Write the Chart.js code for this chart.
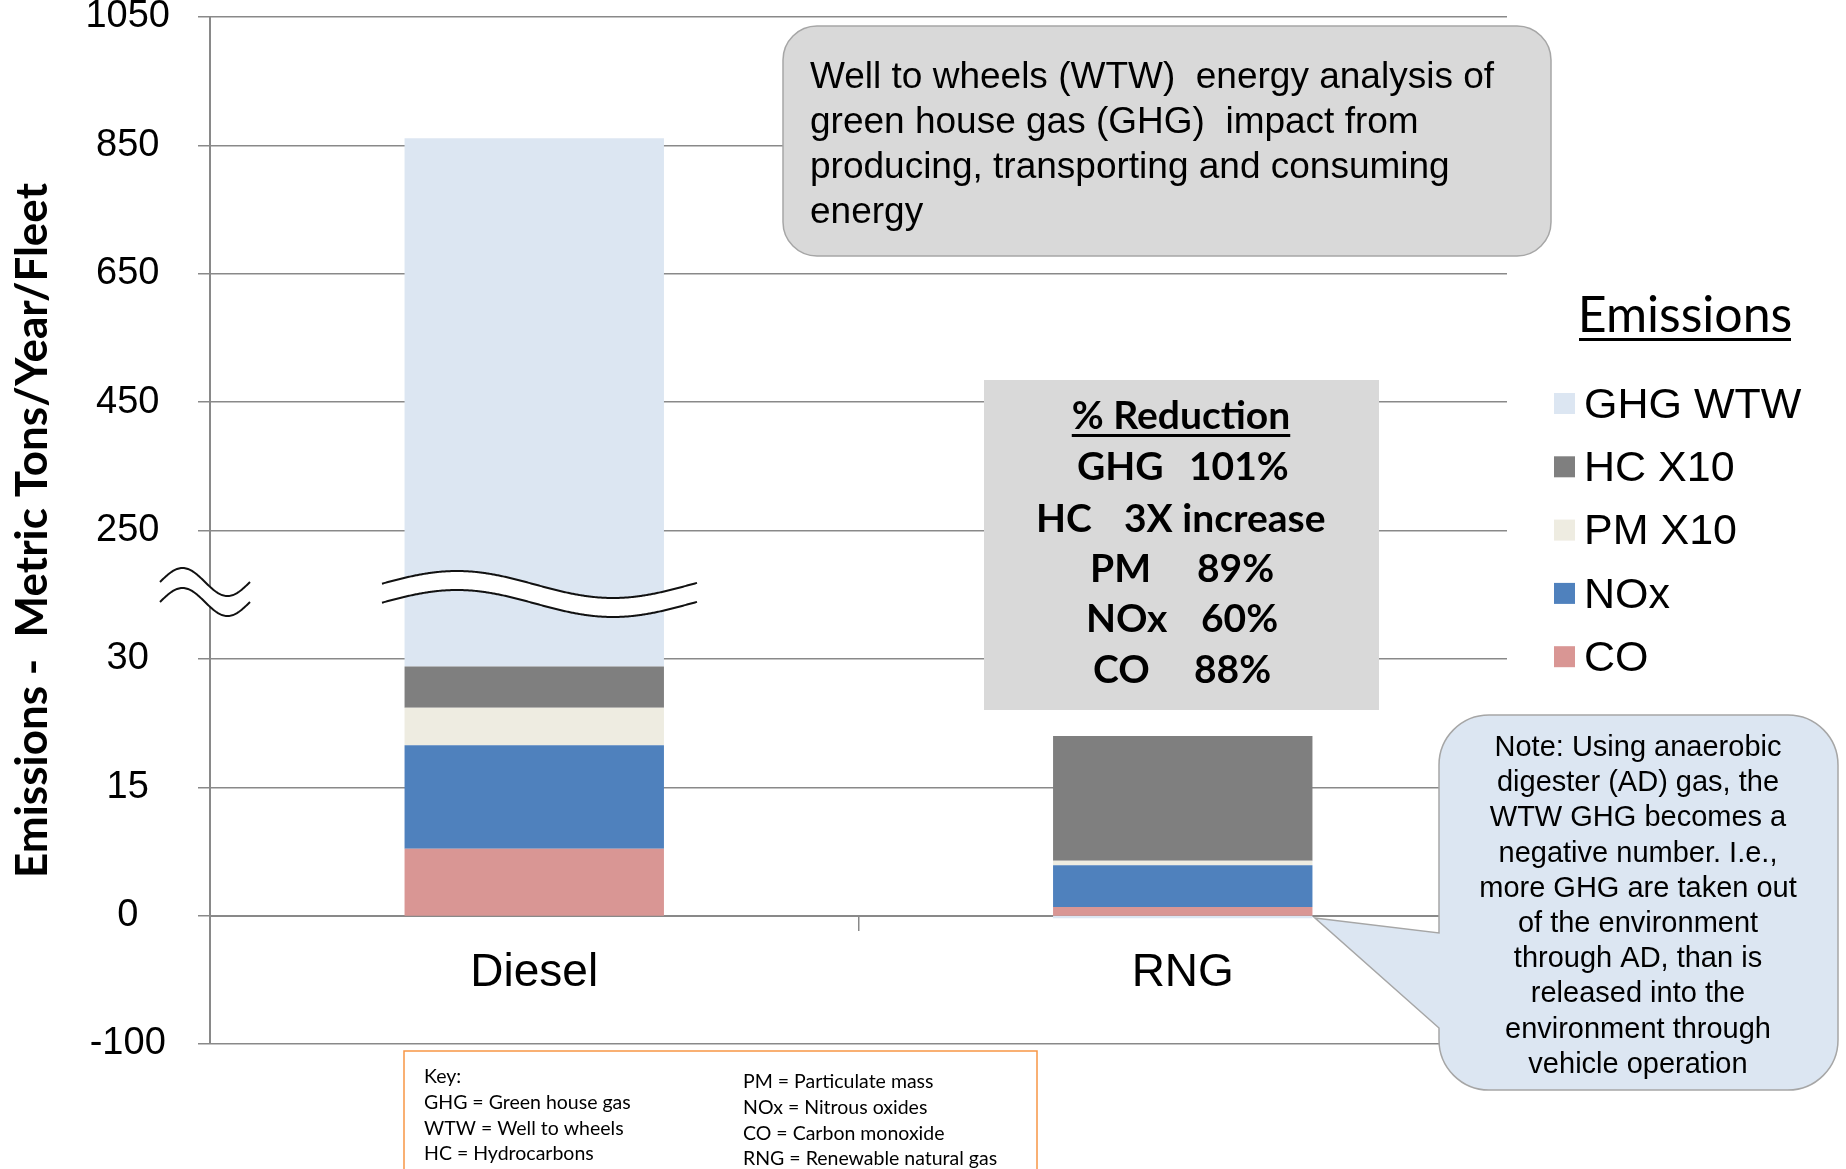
<!DOCTYPE html>
<html>
<head>
<meta charset="utf-8">
<script src="https://cdn.jsdelivr.net/npm/chart.js@4.4.1/dist/chart.umd.min.js"></script>
<style>
  html, body { margin: 0; padding: 0; background: #fff; }
  #wrap { width: 1846px; height: 1169px; position: relative; }
</style>
</head>
<body>
<div id="wrap"><canvas id="emissionsChart"></canvas></div>
<script>
// data (metric tons / year / fleet)
const categories = ["Diesel", "RNG"];
const coValues = [7.8, 1.0];
const noxValues = [12.1, 4.9];
const pmValues = [4.4, 0.5];
const hcValues = [4.8, 14.6];
const ghgValues = [832, -2];
// the value axis is broken: every tick gets the same spacing
const tickValues = [-100, 0, 15, 30, 250, 450, 650, 850, 1050];

const seriesLabels = ["CO", "NOx", "PM X10", "HC X10", "GHG WTW"];
const seriesColors = ["#D99694", "#4F81BD", "#EEECE1", "#7F7F7F", "#DCE6F2"];
const seriesValues = [coValues, noxValues, pmValues, hcValues, ghgValues];

const sans = "'Liberation Sans', Arial, sans-serif";
const calib = "Lato, 'Open Sans', sans-serif";
const gridGray = "#898989";

// real value -> position on the broken axis (tick index units)
function toAxis(v) {
  const n = tickValues.length;
  for (let i = 0; i < n - 1; i++) {
    if (v <= tickValues[i + 1] || i === n - 2) {
      return i + (v - tickValues[i]) / (tickValues[i + 1] - tickValues[i]);
    }
  }
}

// stack the series by hand as floating bars so the broken axis works
const posBase = categories.map(() => 0);
const negBase = categories.map(() => 0);
const datasets = seriesValues.map((vals, k) => {
  const data = vals.map((v, i) => {
    let lo, hi;
    if (v >= 0) { lo = posBase[i]; hi = lo + v; posBase[i] = hi; }
    else { hi = negBase[i]; lo = hi + v; negBase[i] = lo; }
    return [toAxis(lo), toAxis(hi)];
  });
  return {
    label: seriesLabels[k],
    data: data,
    backgroundColor: seriesColors[k],
    borderWidth: 0,
    grouped: false,
    barPercentage: 0.4,
    categoryPercentage: 1
  };
});

function wavePath(ctx, x1, x2, x0, mid, amp, period, shift) {
  for (let x = x1; x <= x2; x += 1) {
    const y = mid + shift - amp * Math.sin(2 * Math.PI * (x - x0) / period);
    if (x === x1) ctx.moveTo(x, y); else ctx.lineTo(x, y);
  }
}

function drawBreak(ctx, x1, x2, x0, mid, amp, period, gap) {
  ctx.beginPath();
  wavePath(ctx, x1, x2, x0, mid, amp, period, 0);
  for (let x = x2; x >= x1; x -= 1) {
    ctx.lineTo(x, mid + gap - amp * Math.sin(2 * Math.PI * (x - x0) / period));
  }
  ctx.closePath();
  ctx.fillStyle = "#fff";
  ctx.fill();
  ctx.strokeStyle = "#111";
  ctx.lineWidth = 2;
  ctx.beginPath();
  wavePath(ctx, x1, x2, x0, mid, amp, period, 0);
  ctx.stroke();
  ctx.beginPath();
  wavePath(ctx, x1, x2, x0, mid, amp, period, gap);
  ctx.stroke();
}

const overlay = {
  id: "overlay",
  afterDraw(chart) {
    const ctx = chart.ctx;
    ctx.save();

    // axis and bar breaks
    drawBreak(ctx, 160, 250, 160, 582, 14, 90, 20);
    drawBreak(ctx, 382, 697, 379, 584.5, 13.5, 312, 19);

    // WTW text box
    ctx.beginPath();
    ctx.roundRect(783, 26, 768, 230, 34);
    ctx.fillStyle = "#D9D9D9";
    ctx.fill();
    ctx.strokeStyle = "#A6A6A6";
    ctx.lineWidth = 1.5;
    ctx.stroke();
    ctx.fillStyle = "#000";
    ctx.font = "37px " + sans;
    ctx.textAlign = "left";
    ctx.textBaseline = "middle";
    ["Well to wheels (WTW)  energy analysis of",
     "green house gas (GHG)  impact from",
     "producing, transporting and consuming",
     "energy"].forEach((t, i) => ctx.fillText(t, 810, 78 + i * 45));

    // % Reduction box
    ctx.fillStyle = "#D9D9D9";
    ctx.fillRect(984, 380, 395, 330);
    ctx.fillStyle = "#000";
    ctx.font = "bold 39px " + calib;
    ctx.textBaseline = "alphabetic";
    ctx.textAlign = "center";
    ctx.fillText("% Reduction", 1181, 429);
    const w = ctx.measureText("% Reduction").width;
    ctx.fillRect(1181 - w / 2, 434, w, 3);
    ctx.textAlign = "left";
    [["GHG", 1077, "101%", 1189, 480],
     ["HC", 1036, "3X increase", 1124, 532],
     ["PM", 1090, "89%", 1197, 582],
     ["NOx", 1086, "60%", 1201, 632],
     ["CO", 1093, "88%", 1194, 683]].forEach(r => {
      ctx.fillText(r[0], r[1], r[4]);
      ctx.fillText(r[2], r[3], r[4]);
    });

    // legend
    ctx.font = "50px " + calib;
    ctx.textAlign = "center";
    ctx.fillText("Emissions", 1685, 332);
    ctx.fillRect(1579, 338, 212, 3);
    ctx.font = "43px " + sans;
    ctx.textAlign = "left";
    ctx.textBaseline = "middle";
    for (let k = seriesLabels.length - 1, r = 0; k >= 0; k--, r++) {
      const cy = 404 + r * 63.3;
      ctx.fillStyle = seriesColors[k];
      ctx.fillRect(1554, cy - 11, 21, 21);
      ctx.fillStyle = "#000";
      ctx.fillText(seriesLabels[k], 1584, cy + 2);
    }

    // note callout
    const L = 1439, T = 715, R = 1838, B = 1090, rad = 50;
    ctx.beginPath();
    ctx.moveTo(L + rad, T);
    ctx.lineTo(R - rad, T);
    ctx.arcTo(R, T, R, T + rad, rad);
    ctx.lineTo(R, B - rad);
    ctx.arcTo(R, B, R - rad, B, rad);
    ctx.lineTo(L + rad, B);
    ctx.arcTo(L, B, L, B - rad, rad);
    ctx.lineTo(L, 1028);
    ctx.lineTo(1315, 918);
    ctx.lineTo(L, 933);
    ctx.lineTo(L, T + rad);
    ctx.arcTo(L, T, L + rad, T, rad);
    ctx.closePath();
    ctx.fillStyle = "#DCE6F2";
    ctx.fill();
    ctx.strokeStyle = "#A6A6A6";
    ctx.lineWidth = 1.5;
    ctx.stroke();
    ctx.fillStyle = "#000";
    ctx.font = "29px " + sans;
    ctx.textAlign = "center";
    ["Note: Using anaerobic", "digester (AD) gas, the", "WTW GHG becomes a",
     "negative number. I.e.,", "more GHG are taken out", "of the environment",
     "through AD, than is", "released into the", "environment through",
     "vehicle operation"].forEach((t, i) => ctx.fillText(t, 1638, 748 + i * 35.2));

    // key box
    ctx.fillStyle = "#fff";
    ctx.fillRect(404, 1051, 633, 130);
    ctx.strokeStyle = "#F79646";
    ctx.lineWidth = 1.5;
    ctx.strokeRect(404, 1051, 633, 130);
    ctx.fillStyle = "#000";
    ctx.font = "19.5px " + calib;
    ctx.textAlign = "left";
    ["Key:", "GHG = Green house gas", "WTW = Well to wheels", "HC = Hydrocarbons"]
      .forEach((t, i) => ctx.fillText(t, 424, 1077 + i * 25.7));
    ["PM = Particulate mass", "NOx = Nitrous oxides", "CO = Carbon monoxide", "RNG = Renewable natural gas"]
      .forEach((t, i) => ctx.fillText(t, 743, 1082 + i * 25.7));

    ctx.restore();
  }
};

new Chart(document.getElementById("emissionsChart"), {
  type: "bar",
  data: { labels: categories, datasets: datasets },
  options: {
    responsive: true,
    maintainAspectRatio: false,
    devicePixelRatio: 1,
    animation: false,
    layout: { autoPadding: false, padding: { left: 0, top: 17, right: 339, bottom: 125 } },
    plugins: { legend: { display: false }, tooltip: { enabled: false } },
    scales: {
      x: {
        position: { y: toAxis(0) },
        afterFit: s => {
          s.height = 0;
          s.paddingLeft = s.paddingRight = s.paddingTop = s.paddingBottom = 0;
        },
        grid: {
          drawOnChartArea: false,
          offset: true,
          tickLength: 14,
          lineWidth: 1.5,
          color: c => (c.index === 1 ? gridGray : "rgba(0,0,0,0)")
        },
        border: { color: gridGray, width: 2 },
        ticks: { font: { family: sans, size: 46 }, color: "#000", padding: 16 }
      },
      y: {
        min: 0,
        max: tickValues.length - 1,
        afterFit: s => {
          s.width = 210;
          s.paddingLeft = s.paddingRight = s.paddingTop = s.paddingBottom = 0;
        },
        ticks: {
          stepSize: 1,
          callback: v => tickValues[v],
          font: { family: sans, size: 38 },
          color: "#000",
          crossAlign: "center",
          padding: 28
        },
        grid: { color: gridGray, lineWidth: 1.5, tickLength: 12 },
        border: { color: gridGray, width: 2 },
        title: {
          display: true,
          text: "Emissions -  Metric Tons/Year/Fleet",
          font: { family: calib, size: 44, weight: "bold" },
          color: "#000",
          padding: { top: 6, bottom: 0 }
        }
      }
    }
  },
  plugins: [overlay]
});
</script>
</body>
</html>
